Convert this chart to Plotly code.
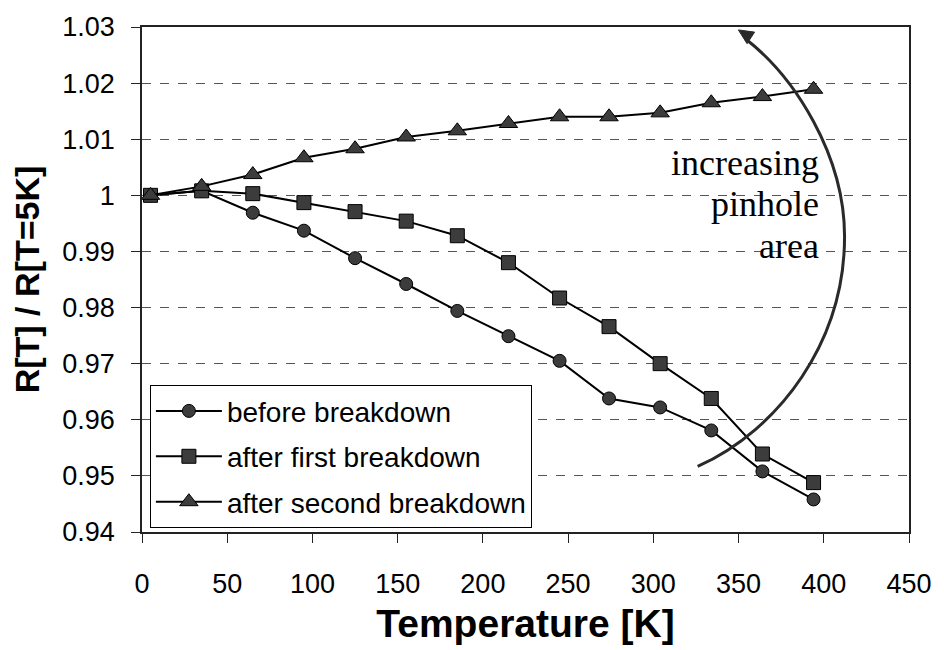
import plotly.graph_objects as go

# Normalised resistance R(T)/R(5 K) versus temperature
temperature = [5, 35, 65, 95, 125, 155, 185, 215, 245, 274, 304, 334, 364, 394]
before_breakdown = [1.0000, 1.0008, 0.9969, 0.9937, 0.9888, 0.9842, 0.9794,
                    0.9749, 0.9705, 0.9638, 0.9622, 0.9581, 0.9508, 0.9458]
after_first = [1.0000, 1.0008, 1.0003, 0.9987, 0.9971, 0.9954, 0.9928,
               0.9880, 0.9817, 0.9766, 0.9700, 0.9638, 0.9539, 0.9488]
after_second = [1.0000, 1.0016, 1.0037, 1.0067, 1.0083, 1.0104, 1.0115,
                1.0128, 1.0140, 1.0140, 1.0147, 1.0165, 1.0176, 1.0189]

series_names = ["before breakdown", "after first breakdown", "after second breakdown"]
y_tickvals = [0.94, 0.95, 0.96, 0.97, 0.98, 0.99, 1.00, 1.01, 1.02, 1.03]
y_ticktext = ["0.94", "0.95", "0.96", "0.97", "0.98", "0.99", "1", "1.01", "1.02", "1.03"]
x_tickvals = [0, 50, 100, 150, 200, 250, 300, 350, 400, 450]

SANS = "Arial, Liberation Sans, sans-serif"
SERIF = "Times New Roman, Liberation Serif, serif"
MARKER_FILL = "#3c3c3c"

fig = go.Figure()
specs = [
    (before_breakdown, "circle", 13),
    (after_first, "square", 14),
    (after_second, "triangle-up", 16),
]
for i, (vals, symbol, size) in enumerate(specs):
    fig.add_trace(go.Scatter(
        x=temperature, y=vals, name=series_names[i], legendgroup=f"g{i}",
        mode="lines+markers",
        line=dict(color="black", width=2),
        marker=dict(symbol=symbol, size=size, color=MARKER_FILL,
                    line=dict(color="black", width=1)),
    ))

# Curved arrow: two cubic segments in data coordinates, plus a filled head
arc = ("M 326.0,0.95168 C 374.3,0.95831 412.2,0.97401 412.2,0.99267 "
       "C 412.2,1.00715 383.0,1.0211 354.0,1.02791")
fig.add_shape(type="path", xref="x", yref="y", path=arc,
              line=dict(color="#2a2a2a", width=3))
head = "M 349.9,1.02948 L 359.4,1.02909 L 355.0,1.02703 Z"
fig.add_shape(type="path", xref="x", yref="y", path=head,
              fillcolor="#2a2a2a", line=dict(color="#2a2a2a", width=1))

for txt, yv in [("increasing", 1.0058), ("pinhole", 0.99845), ("area", 0.99100)]:
    fig.add_annotation(x=398.5, y=yv, xref="x", yref="y", text=txt,
                       showarrow=False, xanchor="right", yanchor="middle",
                       font=dict(family=SERIF, size=36, color="black"))

fig.update_layout(
    width=944, height=650,
    margin=dict(l=142, r=29, t=19, b=115),
    paper_bgcolor="white", plot_bgcolor="white",
    showlegend=True,
    legend=dict(
        x=0.0103, y=0.2907, xanchor="left", yanchor="top",
        bgcolor="white", bordercolor="black", borderwidth=1,
        font=dict(family=SANS, size=28, color="black"),
        tracegroupgap=6, itemwidth=66,
    ),
)

fig.update_xaxes(
    range=[0, 450], tickvals=x_tickvals,
    showgrid=False, zeroline=False,
    showline=True, linecolor="#222", linewidth=1.5, mirror=True,
    ticks="outside", ticklen=9, tickcolor="#222",
    ticklabelstandoff=18,
    tickfont=dict(family=SANS, size=27, color="black"),
    title=dict(text="<b>Temperature [K]</b>", standoff=12,
               font=dict(family=SANS, size=39, color="black")),
)
fig.update_yaxes(
    range=[0.94, 1.03], tickvals=y_tickvals, ticktext=y_ticktext,
    showgrid=True, gridcolor="#555", griddash="dash", gridwidth=1,
    zeroline=False,
    showline=True, linecolor="#222", linewidth=1.5, mirror=True,
    ticks="outside", ticklen=9, tickcolor="#222",
    ticklabelstandoff=11,
    tickfont=dict(family=SANS, size=27, color="black"),
    title=dict(text="<b>R[T] / R[T=5K]</b>", standoff=12,
               font=dict(family=SANS, size=34, color="black")),
)

fig.write_html("out.html")
